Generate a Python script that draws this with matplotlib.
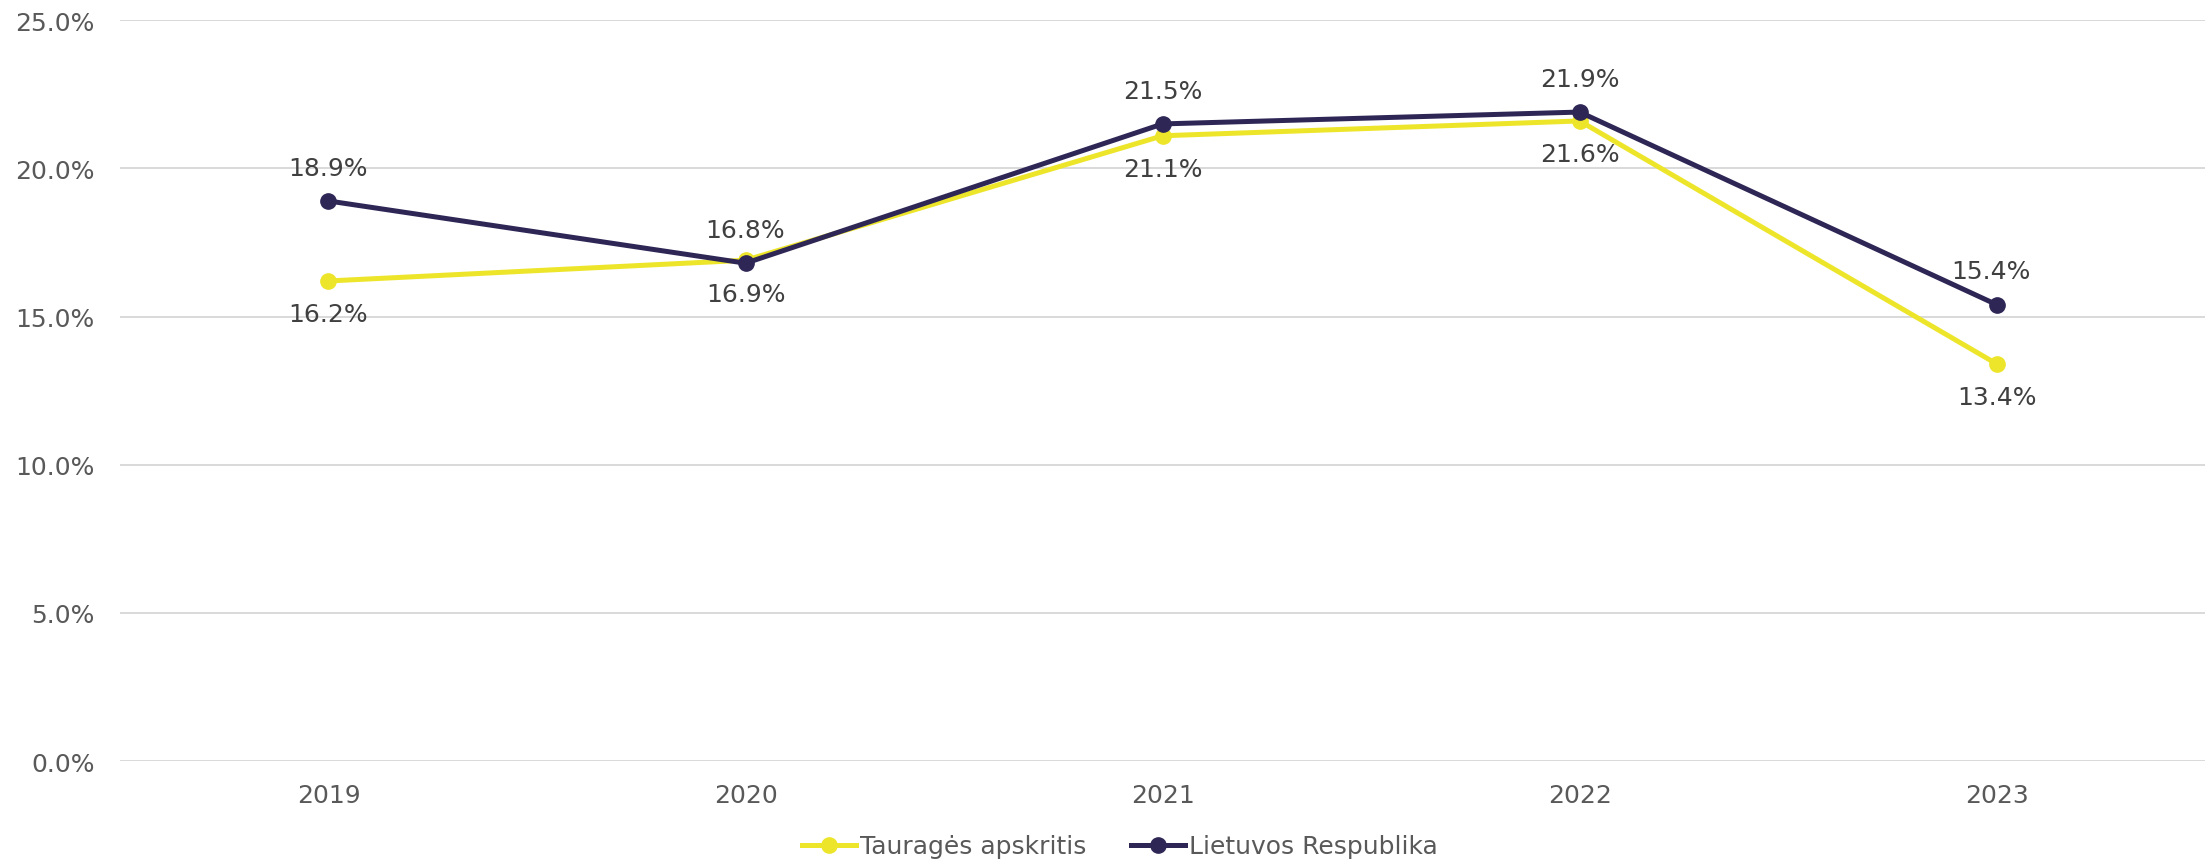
import matplotlib.pyplot as plt
from matplotlib.ticker import FuncFormatter

years = ['2019', '2020', '2021', '2022', '2023']
taurage = [16.2, 16.9, 21.1, 21.6, 13.4]
lietuva = [18.9, 16.8, 21.5, 21.9, 15.4]
yticks = [0, 5, 10, 15, 20, 25]

yellow = '#EDE52A'
navy = '#2E2756'
plt.rcParams['font.family'] = 'DejaVu Sans'

fig = plt.figure(figsize=(22.09, 8.62), dpi=100)
ax = fig.add_axes([0.0543, 0.116, 0.944, 0.8594])

x = range(len(years))
ax.plot(x, taurage, color=yellow, lw=3.6, marker='o', ms=11, label='Tauragės apskritis', zorder=3)
ax.plot(x, lietuva, color=navy, lw=3.6, marker='o', ms=11, label='Lietuvos Respublika', zorder=4)

for i, v in enumerate(taurage):
    ax.annotate(f'{v:.1f}%', (i, v), xytext=(0, -24), textcoords='offset points',
                ha='center', va='center', fontsize=18, color='#404040')
for i, v in enumerate(lietuva):
    if i == 4:
        ax.annotate(f'{v:.1f}%', (i, v), xytext=(-4, 24), textcoords='offset points',
                    ha='center', va='center', fontsize=18, color='#404040',
                    arrowprops=dict(arrowstyle='-', color='#a0a0a0', lw=1,
                                    shrinkA=10, shrinkB=2))
    else:
        ax.annotate(f'{v:.1f}%', (i, v), xytext=(0, 24), textcoords='offset points',
                    ha='center', va='center', fontsize=18, color='#404040')

ax.set_xlim(-0.5, 4.5)
ax.set_ylim(0, 25)
ax.set_yticks(yticks)
ax.yaxis.set_major_formatter(FuncFormatter(lambda v, p: f'{v:.1f}%'))
ax.set_xticks(list(x))
ax.set_xticklabels(years)
ax.tick_params(axis='both', length=0, labelsize=18, labelcolor='#595959')
ax.tick_params(axis='x', pad=16)
ax.tick_params(axis='y', pad=18)
ax.grid(axis='y', color='#d9d9d9', lw=1.4)
ax.set_axisbelow(True)
for s in ax.spines.values():
    s.set_visible(False)

fig.legend(loc='center', bbox_to_anchor=(0.507, 0.017), ncol=2, frameon=False,
           fontsize=18, labelcolor='#595959', handlelength=2.15, handletextpad=0.15,
           columnspacing=1.8)

fig.savefig('out.png', dpi=100)
